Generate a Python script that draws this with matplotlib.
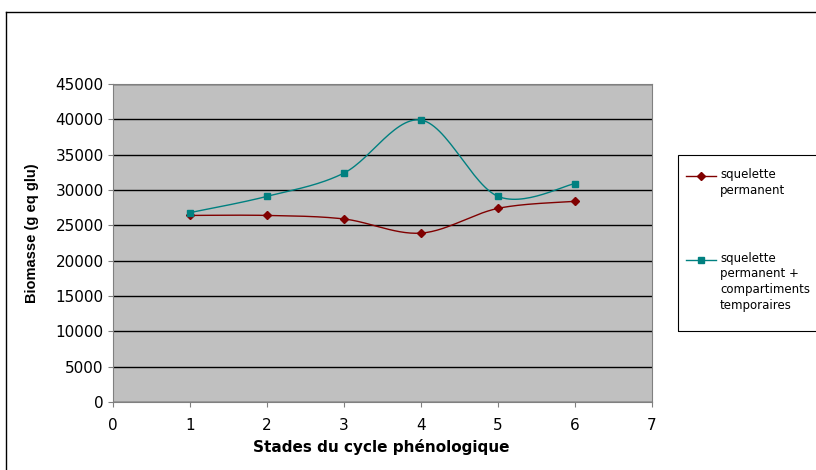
import matplotlib.pyplot as plt
import numpy as np
from matplotlib.lines import Line2D
from matplotlib.patches import Rectangle

plt.rcParams['font.family'] = ['DejaVu Sans']

stades = [1, 2, 3, 4, 5, 6]
permanent = [26400, 26400, 25900, 23900, 27400, 28400]
perm_temp = [26800, 29100, 32400, 39900, 29100, 30900]
labels = ['squelette\npermanent', 'squelette\npermanent +\ncompartiments\ntemporaires']


def smooth(x, y, n=30):
    # Excel-like smoothing: cubic Bezier with Catmull-Rom control points
    x = np.asarray(x, float)
    y = np.asarray(y, float)
    pts = np.column_stack([x, y])
    out = [pts[0]]
    t = np.linspace(0, 1, n)[1:, None]
    for i in range(len(pts) - 1):
        p0 = pts[i - 1] if i > 0 else pts[i]
        p1 = pts[i]
        p2 = pts[i + 1]
        p3 = pts[i + 2] if i + 2 < len(pts) else pts[i + 1]
        c1 = p1 + (p2 - p0) / 6
        c2 = p2 - (p3 - p1) / 6
        seg = ((1 - t) ** 3) * p1 + 3 * ((1 - t) ** 2) * t * c1 + 3 * (1 - t) * t ** 2 * c2 + t ** 3 * p2
        out.extend(seg)
    out = np.array(out)
    return out[:, 0], out[:, 1]


W, H = 816, 470
fig = plt.figure(figsize=(W / 100, H / 100), dpi=100)
ax = fig.add_axes([113 / W, 68 / H, 539 / W, 318 / H])
ax.set_facecolor('#C0C0C0')

red = '#800000'
teal = '#008080'

sx, sy = smooth(stades, permanent)
ax.plot(sx, sy, color=red, lw=1)
ax.plot(stades, permanent, ls='none', marker='D', ms=4.5, color=red)
sx, sy = smooth(stades, perm_temp)
ax.plot(sx, sy, color=teal, lw=1)
ax.plot(stades, perm_temp, ls='none', marker='s', ms=5, color=teal)

ax.set_xlim(0, 7)
ax.set_ylim(0, 45000)
ax.set_xticks(range(0, 8))
ax.set_yticks(range(0, 45001, 5000))
ax.yaxis.grid(True, color='black', lw=1)
ax.set_axisbelow(True)
for s in ax.spines.values():
    s.set_color('#808080')
ax.tick_params(direction='out', length=3.6, color='#808080', labelsize=11)
ax.tick_params(axis='x', pad=8)
ax.tick_params(axis='y', pad=3)

ax.set_xlabel('Stades du cycle phénologique', fontsize=11, fontweight='bold', va='top')
ax.xaxis.set_label_coords(0.498, (402 - 439) / 318)
ax.set_ylabel('Biomasse (g eq glu)', fontsize=10.5, fontweight='bold',
              family='Liberation Sans')
ax.yaxis.set_label_coords((39 - 113) / 539, 0.53)


def fx(px):
    return px / W


def fy(py):
    return 1 - py / H


# legend box drawn by hand to match the tall Excel legend
fig.add_artist(Rectangle((fx(678), fy(331)), fx(830) - fx(678), fy(155) - fy(331),
                         transform=fig.transFigure, fill=False, ec='black', lw=0.8))
for yy, col, mk, ms, lab in [(176, red, 'D', 4.5, labels[0]), (260, teal, 's', 5, labels[1])]:
    fig.add_artist(Line2D([fx(686), fx(716)], [fy(yy), fy(yy)], color=col, lw=1))
    fig.add_artist(Line2D([fx(701)], [fy(yy)], color=col, marker=mk, ms=ms))
    fig.text(fx(720), fy(yy - 8), lab, fontsize=8.5, va='top', ha='left', linespacing=1.25)

# outer chart border
fig.add_artist(Line2D([fx(6), fx(6)], [0, fy(12)], color='black', lw=1))
fig.add_artist(Line2D([fx(6), 1], [fy(12), fy(12)], color='black', lw=1))

fig.savefig('out.png', dpi=100)
